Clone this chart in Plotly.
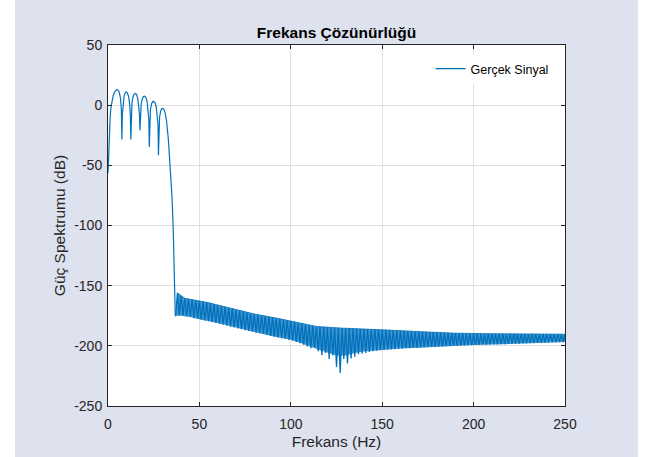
import plotly.graph_objects as go

# ---- data ----
lobe_hz = [0, 0.3, 0.7, 1.2, 1.6, 2.2, 2.9, 3.8, 5.0, 6.0, 6.8, 7.3, 7.6,
           7.85, 8.2, 8.8, 9.5, 10.0, 10.6, 11.3, 11.9, 12.25, 12.5,
           12.75, 13.1, 13.7, 14.4, 15.0, 15.6, 16.3, 16.9, 17.25, 17.5,
           17.75, 18.1, 18.7, 19.4, 20.0, 20.7, 21.4, 22.0, 22.35, 22.6,
           22.85, 23.2, 23.8, 24.4, 25.0, 25.7, 26.4, 27.0, 27.35, 27.6,
           27.85, 28.2, 28.8, 29.4, 30.0, 30.6, 31.2, 32.0, 33.0, 34.0,
           35.0, 35.7, 36.2, 36.6, 36.8]
lobe_db = [-56.5, -40, -23.5, -10, -2, 4, 8.3, 11.5, 13, 11.5, 6, -3, -28.5,
           -8, 1, 7.5, 10.5, 11, 10.3, 7, 0, -9, -28.5,
           -7, 1.5, 7, 9.3, 9.7, 9, 5.5, -1.5, -8, -20.8,
           -8, 0, 5, 7.2, 7.5, 6.5, 3, -4, -12, -34.7,
           -12, -4, 1, 3, 3.2, 2.2, -1.5, -8, -16, -41.6,
           -18, -10, -5, -3, -2.7, -3.5, -6, -13, -28, -50,
           -76, -104, -134, -156, -175]

band_top_hz = list(range(38, 251, 2))
band_top_db = [-156.0, -158.5, -160.5, -161.0, -161.5, -162.2, -162.6, -163.3, -164.0, -164.5,
               -165.3, -166.1, -166.9, -167.7, -168.6, -169.3, -170.2, -171.0, -171.5, -172.3,
               -172.8, -173.5, -174.0, -174.7, -175.2, -175.9, -176.4, -177.1, -177.6, -178.1,
               -178.8, -179.4, -180.0, -180.8, -181.5, -182.3, -183.0, -183.4, -183.9, -184.1,
               -184.4, -184.6, -184.8, -185.0, -185.1, -185.3, -185.4, -185.5, -185.6, -185.7,
               -185.8, -185.9, -186.0, -186.1, -186.2, -186.3, -186.4, -186.5, -186.7, -186.9,
               -187.1, -187.3, -187.5, -187.7, -187.8, -188.0, -188.2, -188.3, -188.5, -188.6,
               -188.8, -188.9, -189.0, -189.1, -189.3, -189.4, -189.5, -189.6, -189.7, -189.8,
               -189.9, -190.0, -190.0, -190.0, -190.0, -190.0, -190.1, -190.0, -190.0, -190.1,
               -190.0, -190.1, -190.1, -190.0, -190.1, -190.1, -190.2, -190.1, -190.2, -190.2,
               -190.2, -190.3, -190.2, -190.3, -190.3, -190.4, -190.4]

band_bottom_hz = list(range(37, 250, 2))
band_bottom_db = [-175.0, -174.5, -175.0, -175.5, -176.0, -177.0, -177.5, -178.3, -179.0, -179.5,
                  -180.3, -181.0, -181.8, -182.5, -183.2, -184.0, -184.8, -185.5, -186.2, -187.0,
                  -187.6, -188.3, -189.0, -189.5, -190.2, -191.0, -191.7, -192.4, -193.0, -193.7,
                  -194.3, -195.0, -195.8, -196.8, -197.8, -199.0, -200.5, -202.0, -201.0, -204.5,
                  -207.8, -206.0, -211.0, -208.0, -217.5, -222.5, -211.0, -214.7, -210.5, -209.0,
                  -207.0, -206.5, -206.0, -205.0, -204.5, -204.0, -203.6, -203.4, -203.2, -203.0,
                  -202.7, -202.5, -202.3, -202.0, -202.0, -201.8, -201.7, -201.5, -201.3, -201.2,
                  -201.0, -200.8, -200.6, -200.4, -200.2, -200.0, -199.9, -199.8, -199.7, -199.6,
                  -199.5, -199.4, -199.3, -199.2, -199.1, -199.0, -198.9, -198.8, -198.7, -198.6,
                  -198.5, -198.4, -198.3, -198.2, -198.1, -198.0, -197.9, -197.8, -197.7, -197.6,
                  -197.5, -197.4, -197.3, -197.2, -197.1, -197.0, -196.8]

# lower edge of the solid (dense) part of the band
band_core_hz = [37, 40, 45, 50, 60, 70, 80, 90, 100, 105, 110, 115, 120, 125, 130,
                135, 140, 150, 160, 170, 180, 190, 200, 210, 220, 230, 240, 250]
band_core_db = [-175, -175, -176, -178, -181, -185, -188.5, -192, -195, -197.5,
                -200.5, -203, -205.5, -208, -208, -206, -204.8, -203.3, -202.2, -201.6,
                -200.7, -199.9, -199.4, -198.9, -198.4, -197.9, -197.4, -196.8]

x_ticks = [0, 50, 100, 150, 200, 250]
x_tick_labels = ["0", "50", "100", "150", "200", "250"]
y_ticks = [50, 0, -50, -100, -150, -200, -250]
y_tick_labels = ["50", "0", "-50", "-100", "-150", "-200", "-250"]

# ---- build the traces from the arrays ----
band_x = [lobe_hz[-1]]
band_y = [lobe_db[-1]]
for bh, bd, th, td in zip(band_bottom_hz, band_bottom_db, band_top_hz, band_top_db):
    band_x += [bh, th]
    band_y += [bd, td]

font = "Liberation Sans, Arial, Helvetica, sans-serif"
axis_col = "#262626"
grid_col = "#e0e0e0"
bg = "#dee1ee"
line_col = "#0072BD"

fig = go.Figure()
# dense band: fill between the top envelope and the lower edge of the solid part
fig.add_trace(go.Scatter(x=band_top_hz, y=band_top_db, mode="lines", showlegend=False,
                         hoverinfo="skip", line=dict(color=line_col, width=0.8)))
fig.add_trace(go.Scatter(x=band_core_hz, y=band_core_db, mode="lines", showlegend=False,
                         hoverinfo="skip", line=dict(width=0),
                         fill="tonexty", fillcolor="rgba(0,114,189,0.75)"))
fig.add_trace(go.Scatter(x=lobe_hz, y=lobe_db, mode="lines", name="Gerçek Sinyal",
                         line=dict(color=line_col, width=1.2)))
fig.add_trace(go.Scatter(x=band_x, y=band_y, mode="lines", name="Gerçek Sinyal",
                         showlegend=False, line=dict(color=line_col, width=1.3)))

fig.update_layout(
    width=649, height=457,
    margin=dict(l=108, r=84, t=45, b=51),
    paper_bgcolor=bg, plot_bgcolor="white",
    font=dict(family=font, size=14, color=axis_col),
    title=dict(text="<b>Frekans Çözünürlüğü</b>", x=0.5, xref="paper",
               y=1 - 33 / 457, yref="container", yanchor="middle",
               font=dict(size=15.5, color="#000000")),
    showlegend=True,
    legend=dict(x=0.975, xanchor="right", y=0.975, yanchor="top",
                bgcolor="white", borderwidth=0, font=dict(size=12.5, color="#000000")),
    shapes=[
        dict(type="rect", xref="paper", yref="paper", x0=-0.3, x1=(15 - 108) / 457,
             y0=-0.3, y1=1.3, fillcolor="white", line=dict(width=0), layer="below"),
        dict(type="rect", xref="paper", yref="paper", x0=(638 - 108) / 457, x1=1.3,
             y0=-0.3, y1=1.3, fillcolor="white", line=dict(width=0), layer="below"),
    ],
)
fig.update_xaxes(range=[0, 250], tickvals=x_ticks, ticktext=x_tick_labels,
                 showgrid=True, gridcolor=grid_col, ticklabelstandoff=5, automargin=False,
                 zeroline=False, showline=True, linecolor=axis_col, linewidth=1,
                 mirror="ticks", ticks="inside", ticklen=4, tickcolor=axis_col,
                 title=dict(text="Frekans (Hz)", font=dict(size=15.5), standoff=5))
fig.update_yaxes(range=[-250, 50], tickvals=y_ticks, ticktext=y_tick_labels,
                 showgrid=True, gridcolor=grid_col, ticklabelstandoff=2, automargin=False,
                 zeroline=False, showline=True, linecolor=axis_col, linewidth=1,
                 mirror="ticks", ticks="inside", ticklen=4, tickcolor=axis_col,
                 title=dict(text="Güç Spektrumu (dB)", font=dict(size=15.5), standoff=4))

fig.write_html("out.html")
